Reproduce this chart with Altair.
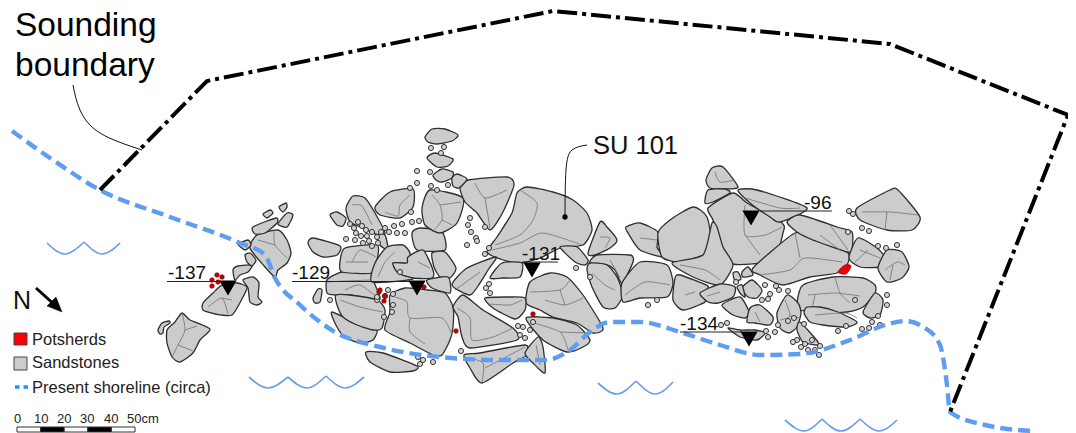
import altair as alt
import pandas as pd

# ---- map readings, in reference-picture units ----
ROCKS = [
 [(182,313),(190,320),(210,329),(200,340),(193,353),(180,362),(172,357),(167,343),(167,330),(175,322)],
 [(158,330),(162,323),(169,321),(170,323),(164,327),(163,333),(160,334)],
 [(222,285),(237,283),(247,287),(243,297),(232,315),(215,314),(203,310),(203,303),(213,293)],
 [(243,280),(253,277),(259,283),(258,297),(262,302),(257,305),(250,302),(248,288)],
 [(233,270),(238,266),(252,265),(248,272),(240,275),(235,280)],
 [(257,235),(278,230),(287,240),(291,253),(287,263),(278,270),(275,277),(265,267),(250,248)],
 [(245,255),(250,253),(256,260),(252,266),(247,262)],
 [(238,244),(248,240),(251,245),(245,250)],
 [(253,227),(276,218),(277,223),(265,233),(255,234)],
 [(278,224),(287,213),(293,215),(287,227)],
 [(263,214),(270,210),(273,213),(267,218)],
 [(279,207),(286,203),(287,207),(283,212)],
 [(313,298),(318,289),(322,290),(320,302),(315,303)],
 [(308,243),(313,238),(340,246),(337,255),(323,257),(313,252)],
 [(332,312),(363,327),(377,330),(373,340),(360,343),(345,337),(337,327)],
 [(327,280),(342,272),(370,273),(373,280),(380,297),(377,300),(350,295),(335,295),(327,293)],
 [(336,295),(350,295),(377,300),(385,310),(382,328),(373,330),(357,325),(343,317),(337,305)],
 [(340,262),(345,248),(377,245),(377,260),(372,273),(342,272)],
 [(330,215),(337,212),(346,218),(343,226),(337,225)],
 [(346,208),(353,196),(365,198),(375,213),(385,233),(378,235),(363,228),(350,222)],
 [(375,207),(390,192),(413,189),(413,207),(400,218),(380,215)],
 [(412,233),(420,228),(442,232),(445,250),(417,250)],
 [(422,208),(430,190),(463,198),(457,223),(440,233),(425,225)],
 [(377,235),(385,235),(388,250),(380,245)],
 [(372,282),(375,263),(387,247),(403,245),(410,253),(407,263),(393,263),(398,273),(413,278),(408,280)],
 [(408,257),(423,250),(433,270),(432,278),(413,278),(398,273),(393,263),(407,263)],
 [(432,253),(445,252),(456,268),(450,278),(440,277),(434,267)],
 [(427,280),(448,277),(450,293),(432,288)],
 [(390,295),(405,288),(428,290),(445,293),(453,307),(453,327),(450,340),(442,355),(433,355),(410,343),(385,330),(390,312)],
 [(366,352),(383,353),(417,366),(413,371),(390,372),(370,362)],
 [(517,193),(527,187),(553,192),(573,200),(587,213),(592,230),(583,245),(560,248),(540,258),(520,263),(503,260),(487,252),(497,237),(512,213)],
 [(460,188),(468,180),(507,177),(514,185),(503,212),(490,230),(477,213),(465,202)],
 [(452,285),(467,268),(496,257),(488,270),(480,283),(470,295)],
 [(490,278),(502,263),(522,263),(520,277),(503,278)],
 [(560,247),(577,247),(588,260),(585,265),(575,262)],
 [(588,253),(600,222),(607,227),(617,240),(610,248),(595,255)],
 [(626,227),(640,223),(658,232),(657,247),(663,257),(640,250),(628,233)],
 [(597,255),(630,255),(633,262),(622,283),(615,270),(607,265),(590,263)],
 [(587,270),(590,263),(607,265),(617,277),(623,295),(615,308),(603,307),(592,287)],
 [(622,283),(640,262),(667,265),(673,283),(667,297),(640,298),(623,302)],
 [(526,303),(530,282),(550,273),(567,277),(583,295),(603,328),(593,333),(577,323),(553,317),(540,310)],
 [(526,318),(553,318),(577,325),(590,340),(583,347),(567,352),(543,340)],
 [(485,298),(510,297),(525,298),(525,310),(515,319),(493,308)],
 [(453,307),(463,295),(483,310),(513,328),(517,340),(470,348),(462,337),(458,317)],
 [(464,355),(480,353),(525,345),(527,355),(513,363),(482,383),(470,368)],
 [(525,353),(538,337),(543,347),(545,373),(533,363)],
 [(706,180),(712,168),(723,167),(738,187),(725,189),(710,188)],
 [(705,203),(708,190),(725,189),(730,193),(713,202)],
 [(708,208),(733,193),(747,203),(782,223),(783,233),(773,260),(733,264),(720,247),(713,220)],
 [(738,190),(757,190),(807,208),(780,222),(770,217),(750,203)],
 [(658,233),(670,220),(693,207),(707,217),(712,247),(703,255),(680,262),(662,257)],
 [(672,263),(703,255),(712,223),(717,227),(723,247),(733,265),(720,285),(693,277)],
 [(675,278),(680,275),(708,286),(702,293),(705,302),(683,310),(673,300)],
 [(700,293),(720,284),(735,287),(733,297),(718,303),(708,302)],
 [(753,268),(795,233),(813,240),(847,252),(848,263),(837,273),(810,277),(783,285),(760,275)],
 [(787,222),(800,215),(837,227),(852,232),(852,250),(847,252),(813,240),(797,232)],
 [(849,258),(858,238),(877,248),(887,260),(880,267),(860,267)],
 [(878,268),(887,250),(902,252),(909,267),(902,278),(887,282)],
 [(857,208),(890,190),(898,190),(920,217),(912,230),(887,230),(860,220)],
 [(797,303),(803,285),(833,277),(863,278),(875,285),(875,293),(863,307),(847,312),(823,313),(800,310)],
 [(807,307),(820,307),(838,312),(857,322),(847,327),(823,325),(810,322),(804,313)],
 [(863,312),(875,293),(883,300),(880,315),(870,318)],
 [(777,313),(787,295),(798,303),(801,313),(797,327),(789,333),(780,328)],
 [(797,330),(800,322),(818,342),(817,345),(803,342)],
 [(722,305),(740,297),(749,312),(745,318),(733,315)],
 [(742,288),(752,280),(762,290),(757,298),(748,297)],
 [(747,322),(750,308),(760,305),(773,317),(770,325),(755,323)],
 [(728,328),(740,330),(755,330),(765,333),(757,340),(740,337)],
 [(742,272),(748,267),(753,275),(743,277)],
 [(733,273),(738,272),(741,279),(735,281)],
 [(737,287),(742,285),(745,297),(740,293)],
 [(425,137),(432,129),(445,129),(458,135),(452,141),(437,144),(428,142)],
 [(427,158),(435,153),(453,159),(448,166),(437,167)],
 [(433,175),(442,169),(453,172),(452,178),(442,182),(436,180)],
 [(452,178),(457,174),(467,179),(459,188),(453,186)],
]
VEINS = [
 [(182,313),(185,330),(178,345),(172,357)],[(185,330),(197,326)],[(178,345),(193,351)],
 [(208,307),(222,298),(228,314)],[(222,298),(232,300)],
 [(274,231),(275,245),(287,258)],[(258,240),(275,245)],
 [(345,290),(360,285),(378,298)],[(340,300),(360,307),(383,312)],[(327,282),(345,281),(372,280)],
 [(352,262),(360,250),(376,257)],[(352,205),(362,206),(372,225)],
 [(410,195),(400,205),(398,216),(385,212)],[(395,297),(407,302),(410,318),(442,318),(452,335)],[(410,318),(410,332),(425,344)],
 [(432,195),(440,205),(442,220),(432,232)],[(442,220),(452,225)],[(440,205),(461,202)],
 [(378,277),(385,262),(395,252)],[(418,262),(430,268)],
 [(520,190),(537,203),(533,220),(520,235),(495,245)],[(492,250),(520,243),(543,233),(582,245)],
 [(475,183),(485,198),(507,190)],[(485,198),(490,228)],
 [(530,292),(560,290),(570,280)],[(545,300),(565,305),(583,298)],[(560,290),(565,305)],
 [(530,322),(560,332),(568,350)],[(560,332),(587,333)],
 [(457,308),(470,318),(472,340),(493,337),(513,328)],[(490,304),(510,305),(522,300)],
 [(485,368),(525,347)],[(465,357),(483,363),(482,383)],[(536,345),(540,365)],
 [(600,237),(610,238),(605,248)],[(592,273),(605,285),(615,290)],[(455,290),(480,272)],
 [(640,238),(657,240)],[(625,295),(645,282),(670,285)],[(610,260),(620,278)],
 [(715,172),(720,182),(735,180)],[(745,205),(745,235),(765,235),(782,227)],[(745,235),(760,255)],
 [(742,197),(780,208),(800,208)],[(680,265),(705,270),(720,280)],
 [(760,275),(790,270),(805,258),(842,262)],[(795,233),(800,258)],[(820,235),(840,250)],
 [(830,225),(848,250)],[(860,250),(880,258)],[(855,262),(868,250)],
 [(885,270),(897,262),(905,265)],[(890,280),(893,265)],[(862,212),(890,212),(918,215)],[(887,212),(885,230)],
 [(808,295),(835,293),(860,296)],[(835,277),(840,293),(850,303)],[(812,308),(815,295)],
 [(815,315),(845,313),(857,318)],[(785,300),(790,316),(780,320)],[(790,316),(800,318)],
 [(685,295),(695,292)],[(707,296),(720,292)],[(755,312),(760,322)],[(346,262),(368,262)],
]
PEBBLES = [
 [350,224],[354,228],[358,222],[362,226],[366,230],[356,233],[361,236],[367,236],[372,232],[377,237],
 [381,232],[369,241],[363,243],[355,240],[372,246],[346,239],[378,243],[385,228],[389,232],[394,226],
 [402,224],[397,233],[405,233],[412,222],[419,221],[411,212],[431,186],[437,190],[448,185],[430,172],
 [417,171],[431,148],[441,153],[444,147],[417,183],[410,188],[393,294],[388,290],[385,296],[393,305],
 [392,312],[377,300],[384,317],[400,272],[377,297],[330,300],[420,364],[423,360],[418,357],[433,362],
 [476,238],[471,232],[468,225],[470,218],[485,227],[467,245],[477,241],[489,248],[485,254],
 [486,288],[489,284],[490,293],[518,326],[523,327],[520,335],[525,338],[530,330],[533,322],[461,351],
 [590,277],[576,268],[648,305],[657,300],[848,232],[862,228],[869,231],[849,211],[853,214],
 [878,246],[886,248],[897,245],[855,300],[887,295],[887,305],[878,316],[880,325],[872,322],
 [846,326],[838,331],[862,329],[869,328],[775,332],[797,340],[793,342],[801,347],[808,350],[805,344],
 [820,346],[815,350],[812,340],[819,355],[727,323],[721,325],[788,291],[779,290],[770,294],[768,299],
 [762,300],[765,285],[776,286],[788,321],[804,324],[778,325],[766,331],[768,337],[794,318],[736,282],
]
RED_DOTS = [[217,275],[222,277],[212,280],[218,282],[212,286],[379,292],[385,296],[384,301],[380,290],
            [424,287],[456,331],[533,314]]
RED_BLOBS = [[(838,272),(845,265),(851,266),(846,274)]]
SHORE_X = [12,50,100,170,240,265,275,300,335,380,440,500,545,570,590,610,640,680,720,760,800,850,885,905,925,940,947,950,985,1033]
SHORE_Y = [131,158,190,217,243,255,278,305,332,347,357,360,360,350,332,322,322,332,345,355,354,340,325,321,328,345,385,412,425,431]
BOUND_X = [100,207,553,890,1068,950]
BOUND_Y = [190,81,11,44,115,412]
WAVES = [
 [(47,243),(65,254),(84,242)],[(84,242),(102,254),(120,243)],
 [(249,377),(268,388),(288,377)],[(288,377),(307,388),(326,376)],[(326,376),(345,388),(364,377)],
 [(598,383),(617,394),(636,381)],[(636,381),(655,394),(673,382)],
 [(785,420),(804,431),(822,419)],[(822,419),(841,431),(860,419)],[(860,419),(879,431),(897,420)],
]
LEVELS = ["-137","-129","-131","-96","-134"]
LEVEL_TXT_X = [168,292,522,804,680]
LEVEL_TXT_Y = [279,279,260,209,330]
RULE_X = [167,292,522,760,680]
RULE_X2 = [222,410,558,832,742]
RULE_Y = [281.5,281.5,262,211,332]
TRI_X = [228,417,532,751,749]
TRI_Y = [288,288,270,218,339]
LEADER_A = [(73,85),(80,110),(100,133),(142,150)]
LEADER_B = [(587,145),(572,150),(566,170),(565,217)]
ARROW = [(36,288),(57,307)]
ARROW_HEAD = [(62,312),(47,306),(56,297)]
LABELS = [("Sounding",15,36,33.5,"#000"),("boundary",15,76,33.5,"#000"),("SU 101",593,154,25.5,"#111"),("N",13,309,25,"#111"),
          ("Potsherds",32,345,16.5,"#222"),("Sandstones",32,368,16.5,"#222"),("Present shoreline (circa)",32,393,16.5,"#222"),
          ("0",14,423,13,"#222"),("10",34,423,13,"#222"),("20",57,423,13,"#222"),("30",80,423,13,"#222"),("40",104,423,13,"#222"),("50cm",127,423,13,"#222")]
SCALE_X = [17,40.6,64.2,87.8,111.4]
SCALE_X2 = [40.6,64.2,87.8,111.4,135]
SCALE_FILL = ["#ffffff","#000000","#ffffff","#000000","#ffffff"]
SWATCH_Y = [333,357]
SWATCH_Y2 = [345,370]
SWATCH_FILL = ["#ff0000","#cccccc"]

FONT = "Liberation Sans"
X = alt.X("x:Q", scale=alt.Scale(domain=[8,1068]), axis=None)
Y = alt.Y("y:Q", scale=alt.Scale(domain=[433,8]), axis=None)

def paths(items):
    return pd.DataFrame([{"g":i,"o":j,"x":p[0],"y":p[1]} for i,pts in enumerate(items) for j,p in enumerate(pts)])

def line(items, **kw):
    return alt.Chart(paths(items)).mark_line(**kw).encode(x=X, y=Y, detail="g:N", order="o:Q")

layers = [
    line(ROCKS, fill="#cccccc", stroke="#2e2e2e", strokeWidth=1.3, interpolate="cardinal-closed", tension=0.35),
    line(VEINS, stroke="#707070", strokeWidth=0.8, interpolate="cardinal", tension=0.3),
    alt.Chart(pd.DataFrame(PEBBLES, columns=["x","y"])).mark_point(filled=True, fill="#d4d4d4", stroke="#333333", strokeWidth=1, size=26, opacity=1).encode(x=X, y=Y),
    line(RED_BLOBS, fill="#ee0000", stroke="#880000", strokeWidth=0.6, interpolate="cardinal-closed"),
    alt.Chart(pd.DataFrame(RED_DOTS, columns=["x","y"])).mark_point(filled=True, fill="#cc0000", stroke="#660000", strokeWidth=0.5, size=22, opacity=1).encode(x=X, y=Y),
    line(WAVES, stroke="#6a9fe8", strokeWidth=1.7, interpolate="natural"),
    alt.Chart(pd.DataFrame({"x":SHORE_X,"y":SHORE_Y,"o":range(len(SHORE_X))})).mark_line(stroke="#5f9df0", strokeWidth=4.4, strokeDash=[12,6], interpolate="monotone").encode(x=X, y=Y, order="o:Q"),
    alt.Chart(pd.DataFrame({"x":BOUND_X,"y":BOUND_Y,"o":range(len(BOUND_X))})).mark_line(stroke="#000000", strokeWidth=4, strokeDash=[20,5,4,5]).encode(x=X, y=Y, order="o:Q"),
    line([LEADER_A], stroke="#111111", strokeWidth=1, interpolate="natural"),
    line([LEADER_B], stroke="#111111", strokeWidth=1, interpolate="natural"),
    alt.Chart(pd.DataFrame({"x":[LEADER_B[-1][0]],"y":[LEADER_B[-1][1]]})).mark_point(filled=True, fill="#000000", size=28, opacity=1).encode(x=X, y=Y),
    alt.Chart(pd.DataFrame({"x":RULE_X,"x2":RULE_X2,"y":RULE_Y})).mark_rule(stroke="#222222", strokeWidth=1).encode(x=X, x2="x2:Q", y=Y),
    alt.Chart(pd.DataFrame({"x":TRI_X,"y":TRI_Y})).mark_point(shape="triangle-down", filled=True, fill="#000000", size=300, opacity=1).encode(x=X, y=Y),
    alt.Chart(pd.DataFrame({"t":LEVELS,"x":LEVEL_TXT_X,"y":LEVEL_TXT_Y})).mark_text(align="left", baseline="alphabetic", font=FONT, fontSize=19, color="#111").encode(x=X, y=Y, text="t:N"),
    line([ARROW], stroke="#000000", strokeWidth=3),
    line([ARROW_HEAD], fill="#000000", stroke="#000000", strokeWidth=0.5, interpolate="linear-closed"),
    alt.Chart(pd.DataFrame({"x":[14,14],"x2":[27,27],"y":SWATCH_Y,"y2":SWATCH_Y2,"f":SWATCH_FILL})).mark_rect(stroke="#444444", strokeWidth=1).encode(
        x=X, x2="x2:Q", y=Y, y2="y2:Q", fill=alt.Fill("f:N", scale=None)),
    line([[(15,387),(28,387)]], stroke="#1e90ff", strokeWidth=3.5, strokeDash=[4.5,4]),
    alt.Chart(pd.DataFrame({"x":SCALE_X,"x2":SCALE_X2,"y":[427]*5,"y2":[432]*5,"f":SCALE_FILL})).mark_rect(stroke="#333333", strokeWidth=1).encode(
        x=X, x2="x2:Q", y=Y, y2="y2:Q", fill=alt.Fill("f:N", scale=None)),
]
for t,x,y,s,c in LABELS:
    layers.append(alt.Chart(pd.DataFrame({"t":[t],"x":[x],"y":[y]})).mark_text(align="left", baseline="alphabetic", font=FONT, fontSize=s, color=c).encode(x=X, y=Y, text="t:N"))

chart = alt.layer(*layers).properties(width=1060, height=425, padding=0, autosize=alt.AutoSizeParams(type="none")).configure_view(stroke=None, clip=False)
chart.save("out.html", embed_options={"renderer": "svg", "actions": False})
